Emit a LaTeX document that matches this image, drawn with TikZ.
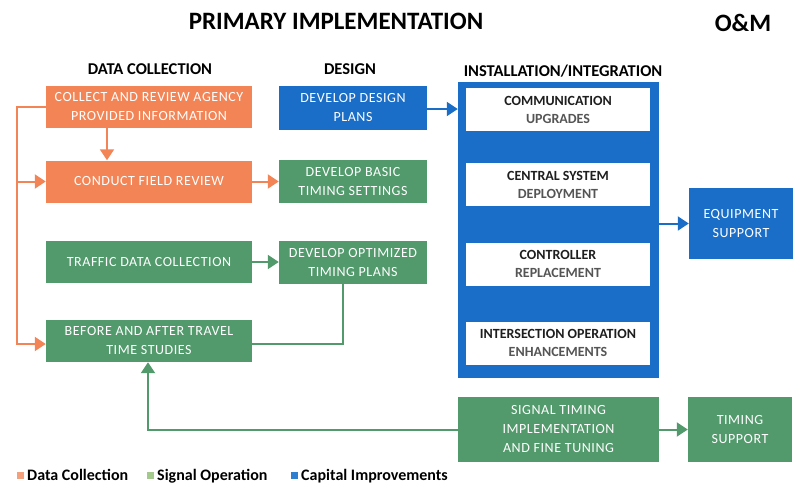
\documentclass[tikz,border=0pt]{standalone}
\usepackage{fontspec}
\setmainfont{Carlito}
\newfontfamily\boxfont[LetterSpace=4]{Carlito}
\usetikzlibrary{positioning,arrows.meta}
\definecolor{dcorange}{HTML}{F28456}
\definecolor{sogreen}{HTML}{529A6C}
\definecolor{cpblue}{HTML}{1A6EC8}
\definecolor{lgorange}{HTML}{F4A07C}
\definecolor{lggreen}{HTML}{A3C98D}
\definecolor{lgblue}{HTML}{2F7FD0}
\definecolor{inka}{HTML}{1E1E1E}
\definecolor{inkb}{HTML}{555555}

\begin{document}
\begin{tikzpicture}[x=1pt,y=-1pt,
    box/.style={align=center,text=white,inner sep=0pt,font=\boxfont\fontsize{14}{19}\selectfont},
    wide/.style={box,minimum width=206pt,minimum height=42pt},
    mid/.style={box,minimum width=148pt,minimum height=43pt},
    small/.style={box,minimum width=104pt},
    inner/.style={fill=white,align=center,inner sep=0pt,minimum width=184pt,minimum height=43pt,font=\bfseries\fontsize{14}{18}\selectfont},
    head/.style={font=\bfseries\fontsize{16.5}{16.5}\selectfont},
    oarr/.style={draw=dcorange,line width=2pt,-{Triangle[width=14pt,length=11pt]}},
    garr/.style={draw=sogreen,line width=2pt,-{Triangle[width=14pt,length=11pt]}},
    barr/.style={draw=cpblue,line width=2pt,-{Triangle[width=14pt,length=11pt]}},
    lgd/.style={minimum size=7pt,inner sep=0pt,label distance=1pt},
    lgdtxt/.style={font=\bfseries\fontsize{16}{16}\selectfont,text height=10pt,text depth=0pt}]
    \useasboundingbox (0,0) rectangle (795,485);

    \node[font=\bfseries\fontsize{25}{25}\selectfont] (title) at (336,21) {PRIMARY IMPLEMENTATION};
    \node[font=\bfseries\fontsize{25}{25}\selectfont] (om) at (743,23) {O\&M};
    \node[head] (h1) at (150,69) {DATA COLLECTION};
    \node[head] (h2) at (350,69) {DESIGN};
    \node[head] (h3) at (563,71) {INSTALLATION/INTEGRATION};

    \node[wide,fill=dcorange] (dc1) at (149,107) {COLLECT AND REVIEW AGENCY\\PROVIDED INFORMATION};
    \node[wide,fill=dcorange] (dc2) at (149,181.5) {CONDUCT FIELD REVIEW};
    \node[wide,fill=sogreen] (so1) at (149,262) {TRAFFIC DATA COLLECTION};
    \node[wide,fill=sogreen] (so2) at (149,341) {BEFORE AND AFTER TRAVEL\\TIME STUDIES};

    \node[mid,fill=cpblue,minimum height=44pt] (cp1) at (353,108) {DEVELOP DESIGN\\PLANS};
    \node[mid,fill=sogreen] (so3) at (353,181.5) {DEVELOP BASIC\\TIMING SETTINGS};
    \node[mid,fill=sogreen] (so4) at (353,262.5) {DEVELOP OPTIMIZED\\TIMING PLANS};

    \node[fill=cpblue,minimum width=201pt,minimum height=296pt,inner sep=0pt] (inst) at (558.5,230) {};
    \node[inner] (in1) at (558,109.5) {{\color{inka}COMMUNICATION}\\{\color{inkb}UPGRADES}};
    \node[inner] (in2) at (558,184.5) {{\color{inka}CENTRAL SYSTEM}\\{\color{inkb}DEPLOYMENT}};
    \node[inner] (in3) at (558,264) {{\color{inka}CONTROLLER}\\{\color{inkb}REPLACEMENT}};
    \node[inner] (in4) at (558,343) {{\color{inka}INTERSECTION OPERATION}\\{\color{inkb}ENHANCEMENTS}};

    \node[small,fill=cpblue,minimum height=71pt] (eq) at (741,223.5) {EQUIPMENT\\SUPPORT};
    \node[box,fill=sogreen,minimum width=201pt,minimum height=65pt] (st) at (558.5,429.5) {SIGNAL TIMING\\IMPLEMENTATION\\AND FINE TUNING};
    \node[small,fill=sogreen,minimum height=65pt] (ts) at (740,429.5) {TIMING\\SUPPORT};

    \coordinate (bus) at (17,0);
    \draw[oarr] ([xshift=-42pt]dc1.south) -- ([xshift=-42pt]dc2.north);
    \draw[oarr] (dc1.west) -- (dc1.west -| bus) |- ([yshift=-3pt]so2.west);
    \draw[oarr] (dc2.west -| bus) -- (dc2.west);
    \draw[oarr] (dc2.east) -- (so3.west);
    \draw[barr] ([yshift=-1pt]cp1.east) -- ([yshift=-1pt]cp1.east -| inst.west);
    \draw[garr] (so1.east) -- (so1.east -| so4.west);
    \draw[draw=sogreen,line width=2pt] ([xshift=-10pt]so4.south) |- ([yshift=-3pt]so2.east);
    \draw[barr] (eq.west -| inst.east) -- (eq.west);
    \draw[garr] (st.west) -| ([xshift=-1pt]so2.south);
    \draw[garr] (st.east) -- (ts.west);

    \node[lgd,fill=lgorange,label={[lgdtxt]right:Data Collection}] (l1) at (20,475.5) {};
    \node[lgd,fill=lggreen,label={[lgdtxt]right:Signal Operation}] (l2) at (150,475.5) {};
    \node[lgd,fill=lgblue,label={[lgdtxt]right:Capital Improvements}] (l3) at (294,475.5) {};
\end{tikzpicture}
\end{document}
